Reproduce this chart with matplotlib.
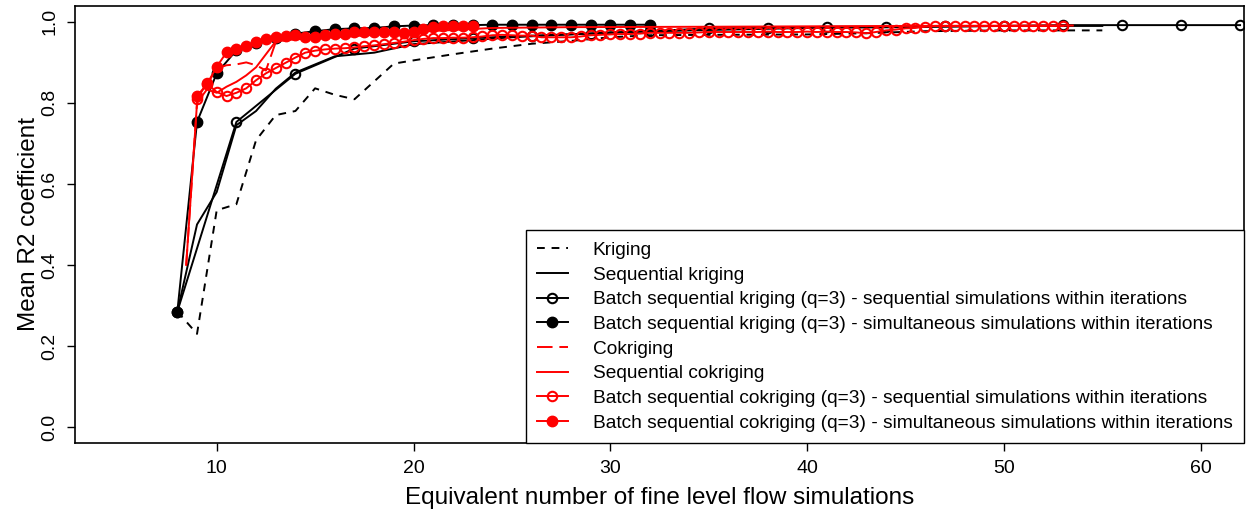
import matplotlib
matplotlib.use("Agg")
import matplotlib.pyplot as plt
import numpy as np

plt.rcParams['font.family'] = ['Liberation Sans', 'DejaVu Sans']

# Kriging (dashed black)
krig_x = [8, 9, 10, 11, 12, 13, 14, 15, 16, 17, 18, 19, 20, 22, 24, 26, 28, 30, 32, 35, 40, 43, 46, 50, 55]
krig_y = [0.285, 0.23, 0.535, 0.55, 0.708, 0.77, 0.78, 0.836, 0.82, 0.809, 0.853, 0.897, 0.905, 0.92,
          0.934, 0.946, 0.953, 0.962, 0.967, 0.968, 0.969, 0.972, 0.977, 0.979, 0.979]

# Sequential kriging (solid black)
seqk_x = [8, 9, 10, 11, 12, 13, 14, 15, 16, 18, 20, 23, 25, 30, 35, 40, 45, 50, 55]
seqk_y = [0.285, 0.50, 0.58, 0.745, 0.78, 0.835, 0.875, 0.895, 0.915, 0.924, 0.945, 0.955, 0.962,
          0.974, 0.98, 0.985, 0.987, 0.99, 0.99]

# Batch sequential kriging, sequential simulations (open black)
bsk_seq_x = [8, 11, 14, 17, 20, 23, 26, 29, 32, 35, 38, 41, 44, 47, 50, 53, 56, 59, 62]
bsk_seq_y = [0.285, 0.753, 0.872, 0.934, 0.952, 0.960, 0.966, 0.971, 0.977, 0.984, 0.985, 0.988,
             0.988, 0.989, 0.990, 0.992, 0.992, 0.992, 0.992]

# Batch sequential kriging, simultaneous simulations (filled black)
bsk_sim_x = list(range(8, 33))
bsk_sim_y = [0.285, 0.753, 0.873, 0.93, 0.948, 0.96, 0.971, 0.977, 0.982, 0.984, 0.985, 0.989,
             0.991, 0.992, 0.992, 0.992, 0.993, 0.993, 0.993, 0.993, 0.993, 0.993, 0.993, 0.993, 0.993]

# Cokriging (dashed red)
cok_x = [8.45, 9, 9.5, 10, 10.5, 11, 11.5, 12, 12.5, 13, 14, 16, 18, 20, 23]
cok_y = [0.40, 0.80, 0.845, 0.885, 0.893, 0.895, 0.90, 0.893, 0.88, 0.95, 0.962, 0.968, 0.972, 0.978, 0.988]

# Sequential cokriging (solid red)
seqc_x = [8.45, 9, 9.5, 10, 10.5, 11, 11.5, 12, 12.5, 13, 14, 16, 18, 20, 22, 24, 28, 35, 45, 53.5]
seqc_y = [0.40, 0.80, 0.833, 0.825, 0.84, 0.852, 0.868, 0.888, 0.92, 0.952, 0.957, 0.962, 0.968,
          0.975, 0.98, 0.985, 0.987, 0.988, 0.99, 0.991]

# Batch sequential cokriging, sequential simulations (open red)
bsc_seq_x = [9.0, 9.5, 10.0, 10.5, 11.0, 11.5, 12.0, 12.5, 13.0, 13.5, 14.0, 14.5, 15.0, 15.5, 16.0,
             16.5, 17.0, 17.5, 18.0, 18.5, 19.0, 19.5, 20.0, 20.5, 21.0, 21.5, 22.0, 22.5, 23.0, 23.5,
             24.0, 24.5, 25.0, 25.5, 26.0, 26.5, 27.0, 27.5, 28.0, 28.5, 29.0, 29.5, 30.0, 30.5, 31.0,
             31.5, 32.0, 32.5, 33.0, 33.5, 34.0, 34.5, 35.0, 35.5, 36.0, 36.5, 37.0, 37.5, 38.0, 38.5,
             39.0, 39.5, 40.0, 40.5, 41.0, 41.5, 42.0, 42.5, 43.0, 43.5, 44.0, 44.5, 45.0, 45.5, 46.0,
             46.5, 47.0, 47.5, 48.0, 48.5, 49.0, 49.5, 50.0, 50.5, 51.0, 51.5, 52.0, 52.5, 53.0]
bsc_seq_y = [0.81, 0.848, 0.827, 0.817, 0.825, 0.836, 0.856, 0.873, 0.886, 0.899, 0.912, 0.924, 0.929,
             0.932, 0.934, 0.935, 0.937, 0.940, 0.942, 0.945, 0.948, 0.951, 0.955, 0.958, 0.960, 0.960,
             0.961, 0.961, 0.962, 0.964, 0.967, 0.968, 0.967, 0.966, 0.966, 0.962, 0.962, 0.962, 0.962,
             0.964, 0.967, 0.968, 0.969, 0.970, 0.970, 0.971, 0.973, 0.973, 0.973, 0.973, 0.973, 0.974,
             0.975, 0.975, 0.975, 0.975, 0.975, 0.975, 0.976, 0.975, 0.975, 0.975, 0.976, 0.975, 0.976,
             0.975, 0.975, 0.974, 0.972, 0.975, 0.979, 0.981, 0.984, 0.985, 0.988, 0.990, 0.990, 0.990,
             0.990, 0.990, 0.990, 0.990, 0.990, 0.990, 0.990, 0.990, 0.990, 0.990, 0.990]

# Batch sequential cokriging, simultaneous simulations (filled red)
bsc_sim_x = [9.0, 9.5, 10.0, 10.5, 11.0, 11.5, 12.0, 12.5, 13.0, 13.5, 14.0, 14.5, 15.0, 15.5, 16.0,
             16.5, 17.0, 17.5, 18.0, 18.5, 19.0, 19.5, 20.0, 20.5, 21.0, 21.5, 22.0, 22.5, 23.0]
bsc_sim_y = [0.817, 0.846, 0.889, 0.925, 0.932, 0.941, 0.950, 0.958, 0.963, 0.966, 0.968, 0.963, 0.963,
             0.967, 0.970, 0.971, 0.975, 0.975, 0.975, 0.975, 0.975, 0.972, 0.976, 0.982, 0.988, 0.990,
             0.990, 0.990, 0.991]

labels = ["Kriging", "Sequential kriging",
          "Batch sequential kriging (q=3) - sequential simulations within iterations",
          "Batch sequential kriging (q=3) - simultaneous simulations within iterations",
          "Cokriging", "Sequential cokriging",
          "Batch sequential cokriging (q=3) - sequential simulations within iterations",
          "Batch sequential cokriging (q=3) - simultaneous simulations within iterations"]

fig = plt.figure(figsize=(12.48, 5.16), dpi=100)
ax = fig.add_axes([0.0601, 0.141, 0.9367, 0.848])

lw = 1.4
ax.plot(krig_x, krig_y, color='black', lw=lw, dashes=(4, 3.5), label=labels[0])
ax.plot(seqk_x, seqk_y, color='black', lw=lw, label=labels[1])
ax.plot(bsk_seq_x, bsk_seq_y, color='black', lw=lw, marker='o', ms=6.8, mfc='none', mew=1.5,
        label=labels[2])
ax.plot(bsk_sim_x, bsk_sim_y, color='black', lw=lw, marker='o', ms=7.5, label=labels[3])
ax.plot(cok_x, cok_y, color='red', lw=lw, dashes=(8, 3.5), label=labels[4])
ax.plot(seqc_x, seqc_y, color='red', lw=lw, label=labels[5])
ax.plot(bsc_seq_x, bsc_seq_y, color='red', lw=lw, marker='o', ms=6.8, mfc='none', mew=1.5,
        label=labels[6])
ax.plot(bsc_sim_x, bsc_sim_y, color='red', lw=lw, marker='o', ms=7.5, label=labels[7])

ax.set_xlim(2.8, 62.2)
ax.set_ylim(-0.04, 1.04)
ax.set_xticks([10, 20, 30, 40, 50, 60])
ax.set_yticks([0.0, 0.2, 0.4, 0.6, 0.8, 1.0])
ax.set_yticklabels(["0.0", "0.2", "0.4", "0.6", "0.8", "1.0"], rotation=90, va='center')
ax.tick_params(direction='out', length=6, width=1, labelsize=14, pad=6)
for s in ax.spines.values():
    s.set_linewidth(1.2)

ax.set_xlabel("Equivalent number of fine level flow simulations", fontsize=17.5, labelpad=7)
ax.set_ylabel("Mean R2 coefficient", fontsize=17.5, labelpad=1)

leg = ax.legend(loc='lower right', bbox_to_anchor=(1, 0), borderaxespad=0, fontsize=13.8,
                numpoints=1, handlelength=1.6, handletextpad=1.3, labelspacing=0.38,
                borderpad=0.6, fancybox=False, edgecolor='black', framealpha=1)
leg.get_frame().set_linewidth(1.0)

plt.savefig("out.png", dpi=100)
